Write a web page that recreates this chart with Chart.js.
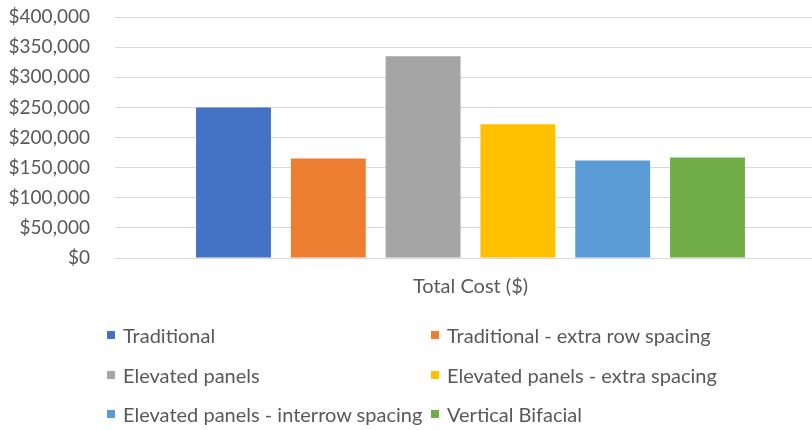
<!DOCTYPE html>
<html>
<head>
<meta charset="utf-8">
<script src="https://cdn.jsdelivr.net/npm/chart.js@4/dist/chart.umd.min.js"></script>
<style>
  html, body { margin: 0; padding: 0; background: #fff; overflow: hidden; }
  #wrap { position: relative; width: 826px; height: 430px; }
  #cbox { position: absolute; left: 0; top: 0; width: 826px; height: 310px; }
  #legend { position: absolute; left: 0; top: 0; width: 812px; height: 430px; pointer-events: none;
            font-family: Lato, "Open Sans", sans-serif; font-size: 20px; color: #595959; }
  .li { position: absolute; display: flex; align-items: center; white-space: nowrap; transform: translateY(-50%); }
  .sw { width: 8px; height: 8px; margin-right: 8px; }
</style>
</head>
<body>
<div id="wrap">
  <div id="cbox"><canvas id="c"></canvas></div>
  <div id="legend"></div>
</div>
<script>
const categories = ["Total Cost ($)"];
const seriesNames = [
  "Traditional",
  "Traditional - extra row spacing",
  "Elevated panels",
  "Elevated panels - extra spacing",
  "Elevated panels - interrow spacing",
  "Vertical Bifacial"
];
const seriesValues = [250000, 165000, 335000, 222000, 162000, 167000];
const seriesColors = ["#4472C4", "#ED7D31", "#A5A5A5", "#FFC000", "#5B9BD5", "#70AD47"];
const yTicks = [0, 50000, 100000, 150000, 200000, 250000, 300000, 350000, 400000];

const FONT = "Lato, 'Open Sans', sans-serif";

const datasets = seriesNames.map((name, i) => ({
  label: name,
  data: [seriesValues[i]],
  backgroundColor: seriesColors[i],
  borderWidth: 0,
  categoryPercentage: 0.8,
  barPercentage: 0.79
}));

const htmlLegend = {
  id: 'htmlLegend',
  afterUpdate(chart) {
    const box = document.getElementById('legend');
    box.innerHTML = '';
    const colX = [107, 431];
    const rowY = [335, 375, 414];
    chart.data.datasets.forEach((ds, i) => {
      const d = document.createElement('div');
      d.className = 'li';
      d.style.left = colX[i % 2] + 'px';
      d.style.top = rowY[Math.floor(i / 2)] + 'px';
      const s = document.createElement('span');
      s.className = 'sw';
      s.style.background = ds.backgroundColor;
      const t = document.createElement('span');
      t.textContent = ds.label;
      d.appendChild(s); d.appendChild(t);
      box.appendChild(d);
    });
  }
};

new Chart(document.getElementById('c'), {
  type: 'bar',
  data: { labels: categories, datasets },
  options: {
    responsive: true,
    maintainAspectRatio: false,
    animation: false,
    layout: { padding: { top: 17, right: 0, bottom: 0, left: 0 } },
    plugins: { legend: { display: false }, tooltip: { enabled: false } },
    scales: {
      x: {
        afterFit(scale) { scale.height = 52; scale.paddingLeft = 0; scale.paddingRight = 0; },
        grid: { display: false, drawTicks: false },
        border: { display: true, color: '#d9d9d9', width: 1 },
        ticks: { color: '#595959', font: { family: FONT, size: 20 }, padding: 17 }
      },
      y: {
        min: 0, max: 400000,
        afterBuildTicks(scale) { scale.ticks = yTicks.map(v => ({ value: v })); },
        afterFit(scale) { scale.width = 115; scale.paddingTop = 0; scale.paddingBottom = 0; },
        grid: { color: '#d9d9d9', lineWidth: 1, drawTicks: false },
        border: { display: false },
        ticks: {
          color: '#595959',
          font: { family: FONT, size: 19 },
          padding: 25,
          callback: v => '$' + Number(v).toLocaleString('en-US')
        }
      }
    }
  },
  plugins: [htmlLegend]
});
</script>
</body>
</html>
